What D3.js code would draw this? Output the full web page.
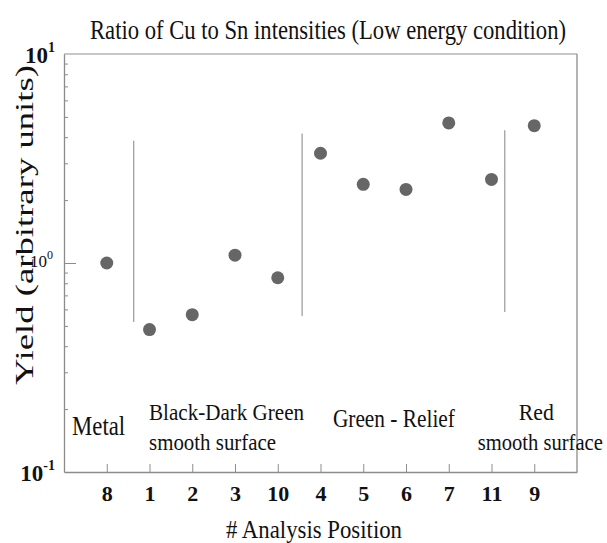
<!DOCTYPE html>
<html>
<head>
<meta charset="utf-8">
<script src="https://cdn.jsdelivr.net/npm/d3@7"></script>
<style>
  body { margin: 0; background: #fff; }
  svg { display: block; font-family: "Liberation Serif", "DejaVu Serif", serif; }
</style>
</head>
<body>
<div class="display"></div>
<script>
// analysis positions in plot order, and the Cu/Sn yield ratio at each
const positions = ['8', '1', '2', '3', '10', '4', '5', '6', '7', '11', '9'];
const ratios = [1.0, 0.48, 0.566, 1.09, 0.85, 3.35, 2.38, 2.25, 4.68, 2.51, 4.54];

// region separators: x in category units, y range in data units
const dividers = [
  {at: 1.63, from: 0.522, to: 3.84},
  {at: 5.57, from: 0.558, to: 4.17},
  {at: 10.31, from: 0.583, to: 4.32}
];

const yMajor = [0.1, 1, 10];
const yExponents = ['-1', '0', '1'];

const regionLabels = [
  {lines: ['Metal']},
  {lines: ['Black-Dark Green', 'smooth surface']},
  {lines: ['Green - Relief']},
  {lines: ['Red', 'smooth surface']}
];

const width = 607;
const height = 543;
const margin = {top: 54, right: 30, bottom: 71, left: 64};

const svg = d3.select('.display')
  .append('svg')
  .attr('width', width)
  .attr('height', height);

const x = d3.scaleLinear()
  .domain([0, positions.length + 1])
  .range([margin.left, width - margin.right]);

const y = d3.scaleLog()
  .domain([0.1, 10])
  .range([height - margin.bottom, margin.top]);

// frame top / right
svg.append('line')
  .attr('x1', x(0)).attr('x2', x(12))
  .attr('y1', y(10)).attr('y2', y(10))
  .attr('stroke', '#b4b4b4').attr('stroke-width', 1.3);
svg.append('line')
  .attr('x1', x(12)).attr('x2', x(12))
  .attr('y1', y(10)).attr('y2', y(0.1))
  .attr('stroke', '#8c8c8c').attr('stroke-width', 1.3);

// x axis, ticks pointing inward
const xAxis = d3.axisBottom(x)
  .tickValues(d3.range(1, positions.length + 1))
  .tickSize(-8)
  .tickSizeOuter(0)
  .tickPadding(13)
  .tickFormat(i => positions[i - 1]);

const gx = svg.append('g')
  .attr('transform', `translate(0, ${y(0.1)})`)
  .call(xAxis);
gx.attr('font-family', null);
gx.select('.domain').attr('stroke', '#8c8c8c').attr('stroke-width', 1.3);
gx.selectAll('.tick line').attr('stroke', '#8c8c8c');
gx.selectAll('text')
  .attr('font-size', 22)
  .attr('font-weight', 'bold')
  .attr('fill', '#111');

// y axis: minor ticks from the log scale, majors separately
const minorTicks = y.ticks().filter(v => !yMajor.includes(v));
const gyMinor = svg.append('g')
  .attr('transform', `translate(${x(0)}, 0)`)
  .call(d3.axisLeft(y).tickValues(minorTicks).tickSize(-4).tickSizeOuter(0).tickFormat(''));
gyMinor.select('.domain').attr('stroke', '#8c8c8c').attr('stroke-width', 1.3);
gyMinor.selectAll('.tick line').attr('stroke', '#8c8c8c');

const gyMajor = svg.append('g')
  .attr('transform', `translate(${x(0)}, 0)`)
  .call(d3.axisLeft(y).tickValues([1]).tickSize(-12).tickSizeOuter(0).tickFormat(''));
gyMajor.select('.domain').remove();
gyMajor.selectAll('.tick line').attr('stroke', '#8c8c8c');

const yLabels = svg.append('g');
yMajor.forEach((v, i) => {
  const ends = i !== 1;
  const t = yLabels.append('text')
    .attr('x', x(0) - (ends ? 9 : 11))
    .attr('y', y(v) + (ends ? 9 : 4))
    .attr('text-anchor', 'end')
    .attr('fill', '#111')
    .attr('font-weight', ends ? 'bold' : 'normal')
    .attr('font-size', ends ? 23 : 17);
  t.append('tspan').text('10');
  t.append('tspan')
    .attr('dy', ends ? -11 : -8)
    .attr('font-size', ends ? 14 : 12)
    .text(yExponents[i]);
});

// region dividers
svg.append('g')
  .selectAll('line')
  .data(dividers)
  .enter()
  .append('line')
  .attr('x1', d => x(d.at)).attr('x2', d => x(d.at))
  .attr('y1', d => y(d.to)).attr('y2', d => y(d.from))
  .attr('stroke', '#a0a0a0')
  .attr('stroke-width', 1.3);

// data points
svg.append('g')
  .selectAll('circle')
  .data(ratios)
  .enter()
  .append('circle')
  .attr('cx', (_, i) => x(i + 1))
  .attr('cy', d => y(d))
  .attr('r', 6.5)
  .attr('fill', '#666');

// region labels (x in category units, baseline y, width)
const labelLayout = [
  [{ux: 0.19, by: 435, w: 53, fs: 28}],
  [{ux: 1.99, by: 420, w: 155, fs: 24}, {ux: 1.99, by: 450, w: 127, fs: 24}],
  [{ux: 6.29, by: 427, w: 122, fs: 25}],
  [{ux: 10.64, by: 420, w: 35, fs: 24}, {ux: 9.68, by: 450, w: 125, fs: 24}]
];
regionLabels.forEach((r, i) => {
  r.lines.forEach((line, j) => {
    const p = labelLayout[i][j];
    svg.append('text')
      .attr('x', x(p.ux))
      .attr('y', p.by)
      .attr('font-size', p.fs)
      .attr('fill', '#111')
      .attr('textLength', p.w)
      .attr('lengthAdjust', 'spacingAndGlyphs')
      .text(line);
  });
});

// title
svg.append('text')
  .attr('x', 90)
  .attr('y', 39)
  .attr('font-size', 28)
  .attr('fill', '#111')
  .attr('textLength', 476)
  .attr('lengthAdjust', 'spacingAndGlyphs')
  .text('Ratio of Cu to Sn intensities (Low energy condition)');

// axis titles
svg.append('text')
  .attr('transform', 'translate(33, 385) rotate(-90)')
  .attr('font-size', 26)
  .attr('fill', '#111')
  .attr('textLength', 320)
  .attr('lengthAdjust', 'spacingAndGlyphs')
  .text('Yield (arbitrary units)');

svg.append('text')
  .attr('x', 226)
  .attr('y', 538)
  .attr('font-size', 25)
  .attr('fill', '#111')
  .attr('textLength', 176)
  .attr('lengthAdjust', 'spacingAndGlyphs')
  .text('# Analysis Position');
</script>
</body>
</html>
